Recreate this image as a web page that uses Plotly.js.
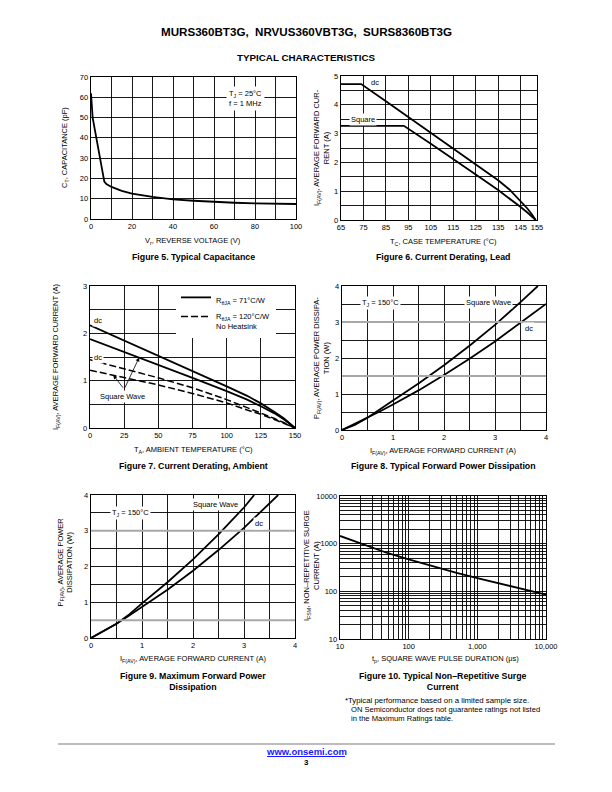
<!DOCTYPE html>
<html><head><meta charset="utf-8">
<script src="https://cdn.plot.ly/plotly-3.0.1.min.js"></script>
<style>html,body{margin:0;padding:0;background:#fff}#chart{width:612px;height:792px}</style>
</head><body><div id="chart"></div>
<script>
// ---------- DATA ----------
// Figure 5: capacitance vs reverse voltage
const capV  = [0, 0.4, 0.8, 2, 3, 4, 5, 6, 6.5, 7.5, 10, 15, 20, 30, 40, 50, 60, 70, 80, 90, 100];
const capPF = [62, 56, 50, 43.3, 37.7, 32, 26.4, 20.8, 18.4, 17.2, 15.8, 13.9, 12.5, 10.9, 9.7, 9.0, 8.4, 8.0, 7.7, 7.5, 7.4];
// Figure 6: current derating, lead
const leadT_dc = [65, 74, 85, 95, 105, 115, 125, 135, 140, 145, 148, 150, 151.7];
const leadI_dc = [4.72, 4.72, 4.12, 3.57, 3.02, 2.5, 1.94, 1.38, 1.06, 0.66, 0.4, 0.2, 0];
const leadT_sq = [65, 93, 105, 115, 125, 135, 140, 145, 148, 150, 151.7];
const leadI_sq = [3.27, 3.27, 2.65, 2.13, 1.58, 1.04, 0.76, 0.45, 0.26, 0.13, 0];
const leadTickVals = [65, 75, 85, 95, 105, 115, 125, 135, 145, 152.3];
const leadTickText = ['65', '75', '85', '95', '105', '115', '125', '135', '145', '155'];
// Figure 7: current derating, ambient
const ambT = [0, 25, 50, 75, 100, 115, 125, 135, 142, 150];
const amb71_dc  = [2.17, 1.85, 1.53, 1.21, 0.88, 0.68, 0.52, 0.34, 0.2, 0];
const amb71_sq  = [1.88, 1.61, 1.34, 1.06, 0.78, 0.6, 0.46, 0.31, 0.18, 0];
const amb120_dc = [1.44, 1.25, 1.06, 0.85, 0.6, 0.43, 0.32, 0.2, 0.11, 0];
const amb120_sq = [1.22, 1.07, 0.91, 0.73, 0.53, 0.38, 0.29, 0.18, 0.1, 0];
// Figure 8: typical forward power dissipation
const fwdI_sq = [0, 0.25, 0.5, 0.75, 1, 1.5, 2, 2.5, 3, 3.5, 3.84];
const fwdP_sq = [0, 0.14, 0.34, 0.57, 0.82, 1.29, 1.8, 2.34, 2.92, 3.55, 4];
const fwdI_dc = [0, 0.25, 0.5, 0.75, 1, 1.5, 2, 2.5, 3, 3.5, 4];
const fwdP_dc = [0, 0.17, 0.35, 0.52, 0.71, 1.1, 1.53, 1.98, 2.46, 2.97, 3.5];
// Figure 9: maximum forward power dissipation
const maxI_sq = [0, 0.25, 0.5, 0.75, 1, 1.5, 2, 2.5, 3, 3.2];
const maxP_sq = [0, 0.19, 0.4, 0.66, 0.97, 1.56, 2.2, 2.9, 3.65, 4];
const maxI_dc = [0, 0.25, 0.5, 0.75, 1, 1.5, 2, 2.5, 3, 3.5, 3.67];
const maxP_dc = [0, 0.2, 0.4, 0.63, 0.87, 1.35, 1.88, 2.46, 3.08, 3.77, 4];
// Figure 10: non-repetitive surge current
const surgeT = [10, 20, 30, 50, 100, 200, 300, 500, 1000, 2000, 3000, 5000, 10000];
const surgeI = [1450, 1000, 810, 630, 470, 350, 300, 245, 190, 150, 130, 108, 85];
const surgeDecades = [10, 100, 1000, 10000];
const surgeXLabels = ['10', '100', '1,000', '10,000'];
const surgeYLabels = ['10', '100', '1000', '10000'];

// ---------- HELPERS ----------
const W = 612, H = 792;
const fx = p => p / W, fy = p => 1 - p / H;
const F = 'Liberation Sans, Arial, Helvetica, sans-serif';
const GRID = {showgrid: true, gridcolor: '#000', gridwidth: 0.9};

function xax(l, r, extra) {
  return Object.assign({domain: [fx(l), fx(r)], showline: true, mirror: true, linecolor: '#000', linewidth: 1.3,
    showgrid: true, gridcolor: '#000', gridwidth: 0.9, zeroline: false, ticks: '',
    tickfont: {family: F, size: 7.5, color: '#000'}, fixedrange: true}, extra);
}
function yax(t, b, extra) {
  return Object.assign({domain: [fy(b), fy(t)], showline: true, mirror: true, linecolor: '#000', linewidth: 1.3,
    showgrid: true, gridcolor: '#000', gridwidth: 0.9, zeroline: false, ticks: '',
    tickfont: {family: F, size: 7.5, color: '#000'}, fixedrange: true}, extra);
}
// minor log gridline positions (2..9 within each decade)
function logMinor(decades) {
  const v = [];
  for (let i = 0; i < decades.length - 1; i++) for (let k = 2; k <= 9; k++) v.push(k * decades[i]);
  return v;
}
const surgeMinor = logMinor(surgeDecades);

function A(text, x, y, o) {
  return Object.assign({text, x: fx(x), y: fy(y), xref: 'paper', yref: 'paper', showarrow: false,
    xanchor: 'center', yanchor: 'middle', font: {family: F, size: 7.5, color: '#000'}}, o || {});
}
function D(text, n, x, y, o) {
  const s = n === 1 ? '' : String(n);
  return Object.assign({text, x, y, xref: 'x' + s, yref: 'y' + s, showarrow: false,
    xanchor: 'center', yanchor: 'middle', bgcolor: '#fff', borderpad: 1,
    font: {family: F, size: 7.5, color: '#000'}}, o || {});
}
function arrow(n, x, y, ax, ay) {
  const s = String(n);
  return {x, y, ax, ay, xref: 'x' + s, yref: 'y' + s, axref: 'x' + s, ayref: 'y' + s, text: '',
    showarrow: true, arrowhead: 2, arrowsize: 1, arrowwidth: 0.8, arrowcolor: '#000'};
}
function line(x, y, n, o) {
  const s = n === 1 ? '' : String(n);
  return Object.assign({x, y, xaxis: 'x' + s, yaxis: 'y' + s, mode: 'lines', hoverinfo: 'skip',
    line: {color: '#000', width: 1.8}, showlegend: false}, o || {});
}
function hline(n, yv) {
  return {type: 'line', xref: 'x' + n + ' domain', yref: 'y' + n, x0: 0, x1: 1, y0: yv, y1: yv,
    layer: 'above', line: {color: '#a8a8a8', width: 2}};
}

// ---------- TRACES ----------
const traces = [
  line(capV, capPF, 1),
  line(leadT_dc, leadI_dc, 2),
  line(leadT_sq, leadI_sq, 2),
  line(ambT, amb71_dc, 3, {name: 'R<sub>θJA</sub> = 71°C/W', showlegend: true, legendgroup: 'a', line: {color: '#000', width: 1.8}}),
  line(ambT, amb71_sq, 3, {legendgroup: 'a'}),
  line(ambT, amb120_dc, 3, {name: 'R<sub>θJA</sub> = 120°C/W<br>No Heatsink', showlegend: true, legendgroup: 'b', line: {color: '#000', width: 1.5, dash: '7px,3px'}}),
  line(ambT, amb120_sq, 3, {legendgroup: 'b', line: {color: '#000', width: 1.5, dash: '7px,3px'}}),
  line(fwdI_sq, fwdP_sq, 4),
  line(fwdI_dc, fwdP_dc, 4),
  line(maxI_sq, maxP_sq, 5),
  line(maxI_dc, maxP_dc, 5),
  line(surgeT, surgeI, 6)
];

// ---------- LAYOUT ----------
const rot = {textangle: -90};
const layout = {
  width: W, height: H, margin: {l: 0, r: 0, t: 0, b: 0},
  paper_bgcolor: '#fff', plot_bgcolor: '#fff',
  font: {family: F, color: '#000'},
  showlegend: true,
  legend: {x: fx(176), y: fy(286), xanchor: 'left', yanchor: 'top', bgcolor: '#fff', borderwidth: 0,
    font: {family: F, size: 7.5, color: '#000'}, valign: 'top', tracegroupgap: 0, itemwidth: 30},
  xaxis: xax(91, 296, {range: [0, 100], dtick: 20, tick0: 0, anchor: 'y', minor: Object.assign({dtick: 10}, GRID)}),
  yaxis: yax(77, 219, {range: [0, 70], dtick: 10, anchor: 'x'}),
  xaxis2: xax(341, 537, {range: [65, 152.3], tickmode: 'array', tickvals: leadTickVals, ticktext: leadTickText, anchor: 'y2'}),
  yaxis2: yax(76, 220, {range: [0, 5], dtick: 1, anchor: 'x2', minor: Object.assign({dtick: 0.5}, GRID)}),
  xaxis3: xax(90, 295, {range: [0, 150], dtick: 25, anchor: 'y3'}),
  yaxis3: yax(286, 428, {range: [0, 3], dtick: 1, anchor: 'x3', minor: Object.assign({dtick: 0.5}, GRID)}),
  xaxis4: xax(342, 546, {range: [0, 4], dtick: 1, anchor: 'y4', minor: Object.assign({dtick: 0.5}, GRID)}),
  yaxis4: yax(286, 430, {range: [0, 4], dtick: 1, anchor: 'x4', minor: Object.assign({dtick: 0.5}, GRID)}),
  xaxis5: xax(91, 295, {range: [0, 4], dtick: 1, anchor: 'y5', minor: Object.assign({dtick: 0.5}, GRID)}),
  yaxis5: yax(495, 638, {range: [0, 4], dtick: 1, anchor: 'x5', minor: Object.assign({dtick: 0.5}, GRID)}),
  xaxis6: xax(340, 546, {type: 'log', range: [1, 4], tickmode: 'array', tickvals: surgeDecades, ticktext: surgeXLabels, anchor: 'y6',
    minor: Object.assign({tickmode: 'array', tickvals: surgeMinor}, GRID)}),
  yaxis6: yax(496, 639, {type: 'log', range: [1, 4], tickmode: 'array', tickvals: surgeDecades, ticktext: surgeYLabels, anchor: 'x6',
    minor: Object.assign({tickmode: 'array', tickvals: surgeMinor}, GRID)}),
  shapes: [
    hline(4, 1.5), hline(4, 3), hline(5, 0.5), hline(5, 3),
    {type: 'line', xref: 'paper', yref: 'paper', x0: fx(58), x1: fx(555), y0: fy(744), y1: fy(744), line: {color: '#bdbdbd', width: 2}},
    {type: 'line', xref: 'paper', yref: 'paper', x0: fx(267), x1: fx(345), y0: fy(756.5), y1: fy(756.5), line: {color: '#1a1aff', width: 1}}
  ],
  annotations: [
    // page header / footer
    A('<b>MURS360BT3G,\u00a0\u00a0NRVUS360VBT3G,\u00a0\u00a0SURS8360BT3G</b>', 306, 31, {font: {family: F, size: 11.6, color: '#000'}}),
    A('<b>TYPICAL CHARACTERISTICS</b>', 306, 58, {font: {family: F, size: 9.8, color: '#000'}}),
    A('<b>www.onsemi.com</b>', 306, 751, {font: {family: F, size: 9.5, color: '#1a1aff'}}),
    A('<b>3</b>', 306, 762, {font: {family: F, size: 8, color: '#000'}}),
    // captions
    A('<b>Figure 5. Typical Capacitance</b>', 193, 257, {font: {family: F, size: 8.8, color: '#000'}}),
    A('<b>Figure 6. Current Derating, Lead</b>', 443, 257, {font: {family: F, size: 8.8, color: '#000'}}),
    A('<b>Figure 7. Current Derating, Ambient</b>', 193, 466, {font: {family: F, size: 8.8, color: '#000'}}),
    A('<b>Figure 8. Typical Forward Power Dissipation</b>', 443, 466, {font: {family: F, size: 8.8, color: '#000'}}),
    A('<b>Figure 9. Maximum Forward Power<br>Dissipation</b>', 193, 681, {font: {family: F, size: 8.8, color: '#000'}}),
    A('<b>Figure 10. Typical Non\u2013Repetitive Surge<br>Current</b>', 443, 681, {font: {family: F, size: 8.8, color: '#000'}}),
    // footnote
    A('*Typical performance based on a limited sample size.', 343, 700, {xanchor: 'left', font: {family: F, size: 7.8, color: '#000'}}),
    A('ON Semiconductor does not guarantee ratings not listed', 349, 709, {xanchor: 'left', font: {family: F, size: 7.6, color: '#000'}}),
    A('in the Maximum Ratings table.', 349, 718, {xanchor: 'left', font: {family: F, size: 7.6, color: '#000'}}),
    // axis titles
    A('V<sub>r</sub>, REVERSE VOLTAGE (V)', 193, 241),
    A('C<sub>T</sub>, CAPACITANCE (pF)', 65, 148, rot),
    A('T<sub>C</sub>, CASE TEMPERATURE (°C)', 443, 242),
    A('I<sub>F(AV)</sub>, AVERAGE FORWARD CUR-<br>RENT (A)', 321, 148, rot),
    A('T<sub>A</sub>, AMBIENT TEMPERATURE (°C)', 193, 450),
    A('I<sub>F(AV)</sub>, AVERAGE FORWARD CURRENT (A)', 56, 357, rot),
    A('I<sub>F(AV)</sub>, AVERAGE FORWARD CURRENT (A)', 443, 451),
    A('P<sub>F(AV)</sub>, AVERAGE POWER DISSIPA-<br>TION (W)', 321, 358, rot),
    A('I<sub>F(AV)</sub>, AVERAGE FORWARD CURRENT (A)', 193, 659),
    A('P<sub>F(AV)</sub>, AVERAGE POWER<br>DISSIPATION (W)', 64.5, 562, rot),
    A('t<sub>p</sub>, SQUARE WAVE PULSE DURATION (\u03bcs)', 445, 659),
    A('I<sub>FSM</sub>, NON\u2013REPETITIVE SURGE<br>CURRENT (A)', 311, 566, rot),
    // in-plot labels
    D('T<sub>J</sub> = 25°C<br>f = 1 MHz', 1, 75.5, 59.2, {borderpad: 2}),
    D('dc', 2, 80, 4.76),
    D('Square', 2, 75, 3.5),
    D('dc', 3, 6, 2.27),
    D('dc', 3, 6, 1.5),
    D('Square Wave', 3, 24, 0.67),
    arrow(3, 36, 1.49, 25, 0.82),
    arrow(3, 17, 1.12, 25, 0.82),
    D('T<sub>J</sub> = 150°C', 4, 0.75, 3.53),
    D('Square Wave', 4, 2.88, 3.53),
    D('dc', 4, 3.67, 2.82),
    D('T<sub>J</sub> = 150°C', 5, 0.77, 3.49),
    D('Square Wave', 5, 2.45, 3.74),
    D('dc', 5, 3.3, 3.21)
  ]
};

Plotly.newPlot('chart', traces, layout, {staticPlot: true, displayModeBar: false});
</script></body></html>
